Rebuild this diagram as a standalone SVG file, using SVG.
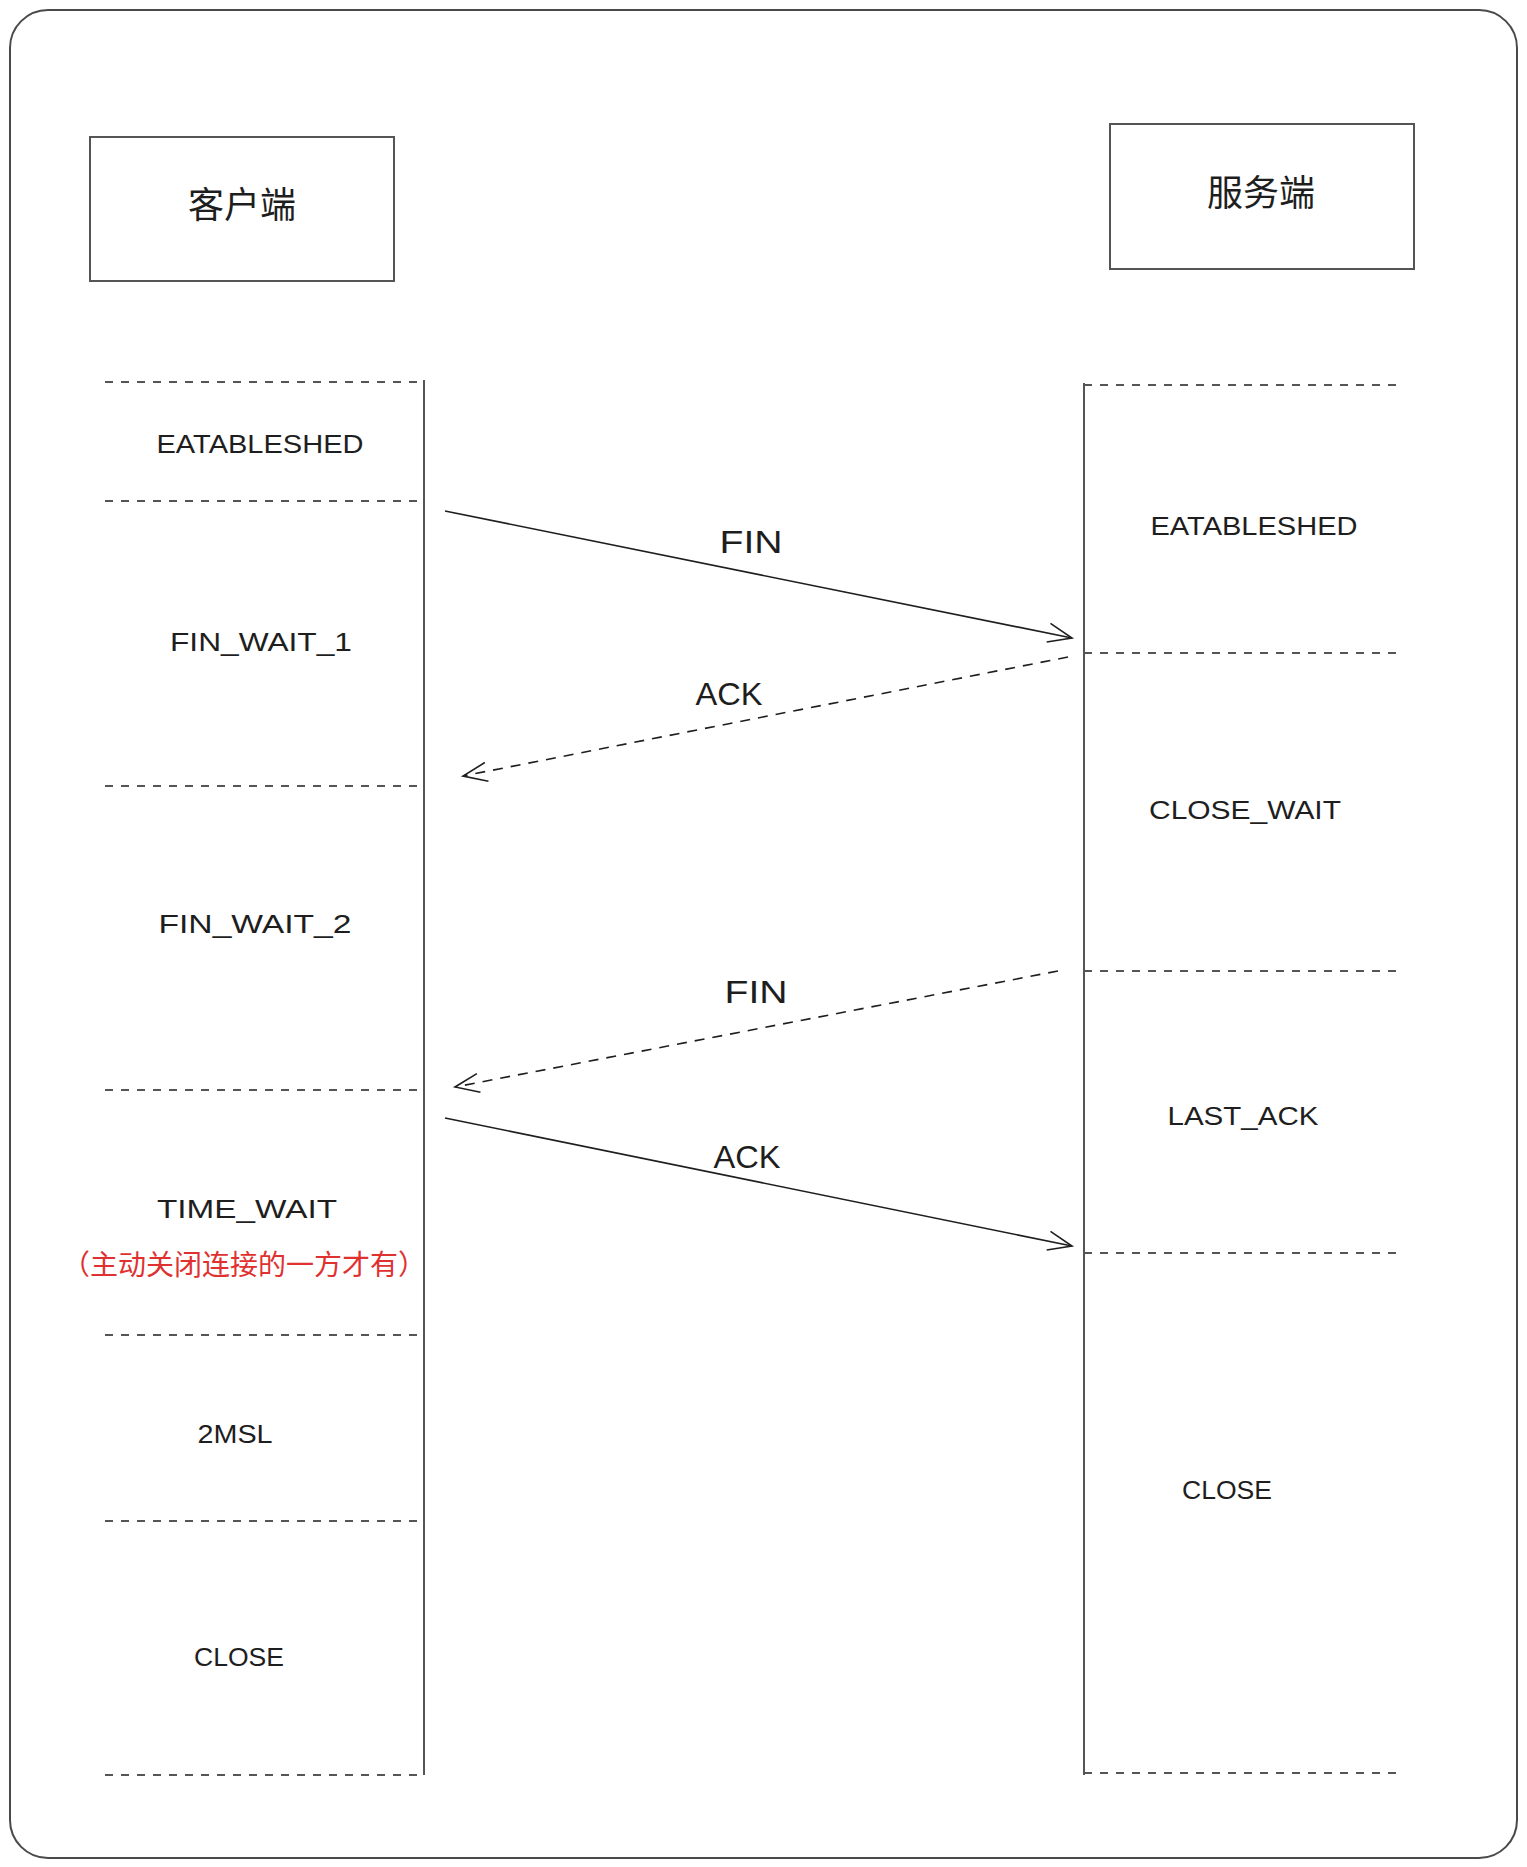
<svg xmlns="http://www.w3.org/2000/svg" width="1527" height="1867" viewBox="0 0 1527 1867">
<defs>
<style>
.frame{fill:#ffffff;stroke:#4a4a4a;stroke-width:2}
.box{fill:none;stroke:#555555;stroke-width:2}
.life{stroke:#555555;stroke-width:2;fill:none}
.div{stroke:#555555;stroke-width:2;stroke-dasharray:8 8;fill:none}
.arr{stroke:#1e1e1e;stroke-width:1.6;fill:none}
.arrd{stroke:#1e1e1e;stroke-width:1.6;fill:none;stroke-dasharray:10 8}
.cn{font-family:"Noto Sans CJK SC","Noto Sans",sans-serif;font-size:36px;fill:#1e1e1e;text-anchor:middle}
.st{font-family:"Liberation Sans","DejaVu Sans",sans-serif;font-size:26px;fill:#1e1e1e;text-anchor:middle}
.al{font-family:"Liberation Sans","DejaVu Sans",sans-serif;font-size:32px;fill:#1e1e1e;text-anchor:middle}
.red{font-family:"Noto Sans CJK SC","Noto Sans",sans-serif;font-size:28px;fill:#e03131;text-anchor:middle}
</style>
<marker id="ah" viewBox="0 0 30 30" refX="28" refY="15" markerWidth="30" markerHeight="30" markerUnits="userSpaceOnUse" orient="auto">
<path d="M4,5 L28,15 L4,24" fill="none" stroke="#1e1e1e" stroke-width="1.6"/>
</marker>
</defs>
<rect class="frame" x="10" y="10" width="1507" height="1848" rx="38"/>

<g id="client">
<rect class="box" x="90" y="137" width="304" height="144"/>
<text class="cn" x="242" y="218">客户端</text>
</g>
<g id="server">
<rect class="box" x="1110" y="124" width="304" height="145"/>
<text class="cn" x="1261" y="206">服务端</text>
</g>

<g id="client-lifeline">
<line class="life" x1="424" y1="380" x2="424" y2="1775"/>
<line class="div" x1="105" y1="382" x2="423" y2="382"/>
<line class="div" x1="105" y1="501" x2="423" y2="501"/>
<line class="div" x1="105" y1="786" x2="423" y2="786"/>
<line class="div" x1="105" y1="1090" x2="423" y2="1090"/>
<line class="div" x1="105" y1="1335" x2="423" y2="1335"/>
<line class="div" x1="105" y1="1521" x2="423" y2="1521"/>
<line class="div" x1="105" y1="1775" x2="423" y2="1775"/>
</g>
<g id="server-lifeline">
<line class="life" x1="1084" y1="383" x2="1084" y2="1775"/>
<line class="div" x1="1084" y1="385" x2="1397" y2="385"/>
<line class="div" x1="1084" y1="653" x2="1397" y2="653"/>
<line class="div" x1="1084" y1="971" x2="1397" y2="971"/>
<line class="div" x1="1084" y1="1253" x2="1397" y2="1253"/>
<line class="div" x1="1084" y1="1773" x2="1397" y2="1773"/>
</g>

<g id="client-states">
<text class="st" x="260" y="453" textLength="207" lengthAdjust="spacingAndGlyphs">EATABLESHED</text>
<text class="st" x="261" y="651" textLength="182" lengthAdjust="spacingAndGlyphs">FIN_WAIT_1</text>
<text class="st" x="255" y="933" textLength="193" lengthAdjust="spacingAndGlyphs">FIN_WAIT_2</text>
<text class="st" x="247" y="1218" textLength="180" lengthAdjust="spacingAndGlyphs">TIME_WAIT</text>
<text class="red" x="244" y="1275">（主动关闭连接的一方才有）</text>
<text class="st" x="235" y="1443" textLength="75" lengthAdjust="spacingAndGlyphs">2MSL</text>
<text class="st" x="239" y="1666" textLength="90" lengthAdjust="spacingAndGlyphs">CLOSE</text>
</g>
<g id="server-states">
<text class="st" x="1254" y="535" textLength="207" lengthAdjust="spacingAndGlyphs">EATABLESHED</text>
<text class="st" x="1245" y="819" textLength="192" lengthAdjust="spacingAndGlyphs">CLOSE_WAIT</text>
<text class="st" x="1243" y="1125" textLength="151" lengthAdjust="spacingAndGlyphs">LAST_ACK</text>
<text class="st" x="1227" y="1499" textLength="90" lengthAdjust="spacingAndGlyphs">CLOSE</text>
</g>

<g id="connectors">
<line class="arr" x1="445" y1="511" x2="1072" y2="638" marker-end="url(#ah)"/>
<line class="arrd" x1="1068" y1="657" x2="463" y2="776" marker-end="url(#ah)"/>
<line class="arrd" x1="1058" y1="971" x2="455" y2="1087" marker-end="url(#ah)"/>
<line class="arr" x1="445" y1="1118" x2="1072" y2="1246" marker-end="url(#ah)"/>
<text class="al" x="751" y="553" textLength="63" lengthAdjust="spacingAndGlyphs">FIN</text>
<text class="al" x="729" y="705" textLength="67" lengthAdjust="spacingAndGlyphs">ACK</text>
<text class="al" x="756" y="1003" textLength="63" lengthAdjust="spacingAndGlyphs">FIN</text>
<text class="al" x="747" y="1168" textLength="67" lengthAdjust="spacingAndGlyphs">ACK</text>
</g>
</svg>
